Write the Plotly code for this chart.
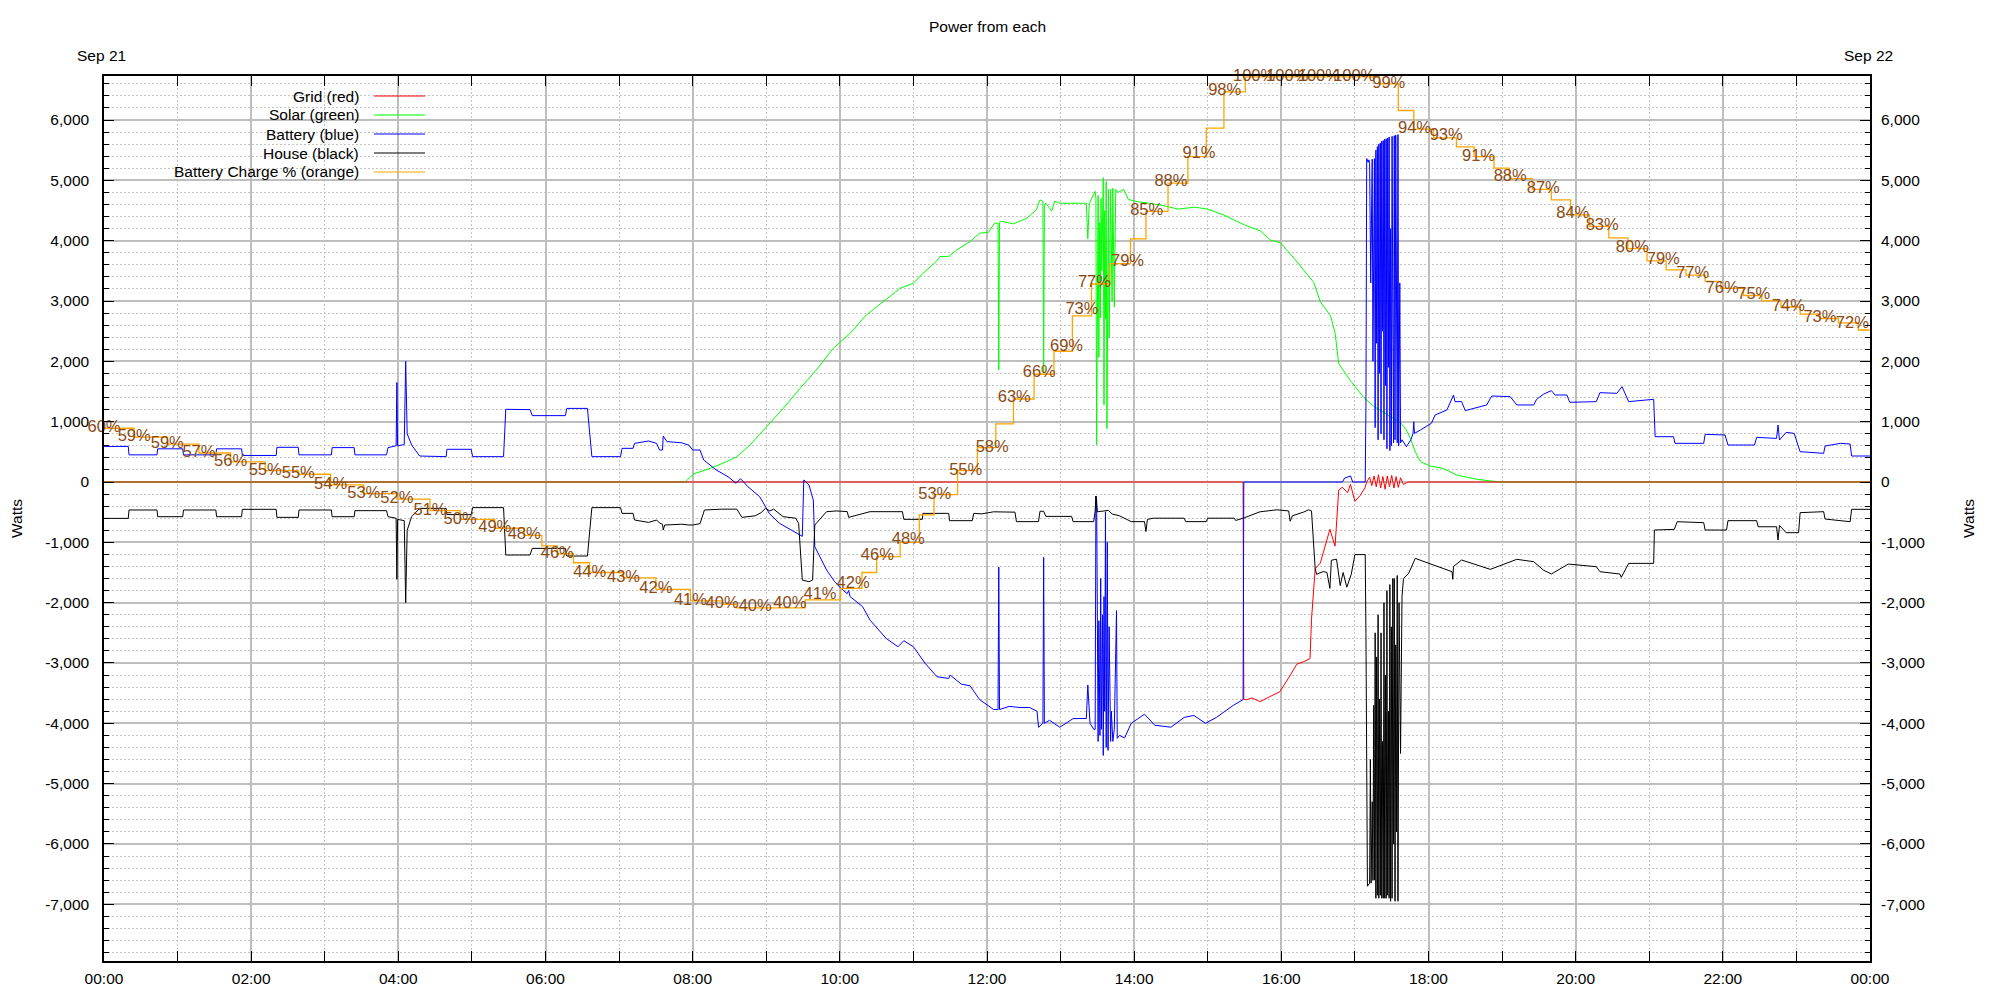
import datetime as dt
import plotly.graph_objects as go

# ---------------- data (time in hours since Sep 21 00:00, watts) ----------------
grid_pts = [
    (0.00, 0), (15.48, 0), (15.49, -3607), (15.53, -3607), (15.60, -3580), (15.71, -3640),
    (15.84, -3560), (15.98, -3476), (16.12, -3206), (16.21, -3020), (16.30, -2980),
    (16.39, -2927), (16.41, -2275), (16.46, -1437), (16.53, -1343), (16.62, -970),
    (16.66, -784), (16.73, -1063), (16.75, -598), (16.78, -133), (16.83, -86), (16.90, -179),
    (16.94, -40), (17.00, -319), (17.07, -226), (17.14, -86), (17.16, 0), (17.20, 80),
    (17.23, -60), (17.26, 100), (17.29, -80), (17.32, 120), (17.35, -100), (17.38, 90),
    (17.41, -120), (17.44, 100), (17.47, -80), (17.50, 110), (17.53, -100), (17.56, 90),
    (17.59, -90), (17.62, 70), (17.66, -40), (17.72, 0), (24.00, 0),
]

solar_pts = [
    (0.00, 0), (7.90, 0), (8.01, 133), (8.24, 226), (8.46, 337), (8.60, 420), (8.78, 613),
    (9.01, 917), (9.23, 1221), (9.46, 1553), (9.68, 1857), (9.91, 2216), (10.14, 2465),
    (10.36, 2769), (10.64, 3045), (10.82, 3211), (11.00, 3294), (11.13, 3460), (11.31, 3654),
    (11.36, 3737), (11.48, 3740), (11.59, 3848), (11.77, 3986), (11.90, 4124), (12.02, 4140),
    (12.10, 4290), (12.15, 4290), (12.16, 1857), (12.17, 4300), (12.19, 4324), (12.36, 4279),
    (12.54, 4373), (12.67, 4511), (12.72, 4677), (12.76, 4650), (12.77, 1800), (12.78, 4600),
    (12.80, 4621), (12.88, 4490), (12.92, 4654), (12.99, 4621), (13.35, 4621), (13.37, 4031),
    (13.39, 4621), (13.47, 4818), (13.48, 4700), (13.49, 620), (13.50, 2500), (13.51, 4750),
    (13.52, 2064), (13.53, 4300), (13.54, 2720), (13.55, 4700), (13.56, 3500), (13.57, 4850),
    (13.58, 5045), (13.59, 1277), (13.60, 4500), (13.61, 2700), (13.62, 4980), (13.63, 882),
    (13.64, 3740), (13.65, 4850), (13.66, 2390), (13.68, 4850), (13.70, 3000), (13.71, 4870),
    (13.73, 2900), (13.75, 4850), (13.78, 4800), (13.86, 4850), (13.92, 4685), (14.01, 4654),
    (14.19, 4621), (14.37, 4589), (14.60, 4523), (14.82, 4556), (15.00, 4523), (15.22, 4424),
    (15.50, 4260), (15.72, 4160), (15.85, 4011), (15.99, 3964), (16.19, 3684), (16.35, 3451),
    (16.44, 3309), (16.53, 2985), (16.67, 2752), (16.73, 2472), (16.78, 1960), (16.94, 1680),
    (17.12, 1401), (17.25, 1261), (17.43, 1121), (17.62, 982), (17.70, 862), (17.76, 702),
    (17.82, 503), (17.89, 337), (18.02, 265), (18.20, 226), (18.38, 116), (18.66, 44),
    (18.97, 0), (24.00, 0),
]

battery_pts = [
    (0.00, 590), (0.33, 590), (0.34, 450), (0.72, 450), (0.73, 550), (1.07, 550), (1.08, 450),
    (1.52, 450), (1.53, 550), (1.87, 550), (1.88, 440), (2.34, 440), (2.35, 575), (2.64, 575),
    (2.65, 450), (3.09, 450), (3.10, 570), (3.40, 570), (3.41, 450), (3.84, 450), (3.86, 570),
    (3.97, 600), (3.98, 1650), (3.99, 600), (4.08, 620), (4.10, 2000), (4.12, 800), (4.18, 614),
    (4.29, 431), (4.65, 420), (4.66, 542), (4.99, 542), (5.01, 420), (5.43, 420), (5.46, 1205),
    (5.79, 1200), (5.82, 1100), (6.27, 1100), (6.29, 1220), (6.57, 1220), (6.63, 420),
    (7.02, 420), (7.04, 558), (7.19, 558), (7.21, 640), (7.40, 680), (7.51, 640), (7.55, 530),
    (7.59, 530), (7.60, 763), (7.65, 670), (7.85, 650), (7.95, 610), (8.00, 530), (8.10, 530),
    (8.15, 365), (8.32, 200), (8.48, 88), (8.59, -22), (8.65, 55), (8.75, -77), (8.91, -243),
    (8.99, -409), (9.04, -520), (9.18, -685), (9.34, -796), (9.44, -862), (9.49, -900),
    (9.51, 33), (9.58, -50), (9.64, -300), (9.66, -1072), (9.82, -1459), (9.93, -1653),
    (10.04, -1791), (10.10, -1850), (10.12, -1800), (10.14, -1900), (10.31, -2067),
    (10.41, -2289), (10.63, -2593), (10.79, -2731), (10.87, -2631), (11.00, -2731),
    (11.16, -3007), (11.32, -3228), (11.48, -3256), (11.50, -3200), (11.65, -3350),
    (11.77, -3378), (11.90, -3607), (12.09, -3771), (12.15, -3771), (12.16, -1411),
    (12.17, -3771), (12.30, -3720), (12.45, -3738), (12.58, -3738), (12.68, -3800),
    (12.70, -4066), (12.76, -4000), (12.77, -1248), (12.78, -4000), (12.85, -3950),
    (12.99, -4066), (13.17, -3922), (13.35, -3920), (13.37, -3365), (13.40, -4000),
    (13.45, -4098), (13.47, -4100), (13.48, -232), (13.49, -300), (13.50, -3500),
    (13.51, -4300), (13.52, -2300), (13.535, -4200), (13.545, -1600), (13.555, -4100),
    (13.57, -2200), (13.58, -4533), (13.59, -1900), (13.60, -3800), (13.61, -494),
    (13.62, -4400), (13.635, -1000), (13.645, -4450), (13.66, -2400), (13.67, -3500),
    (13.68, -4300), (13.69, -3800), (13.71, -4300), (13.73, -4100), (13.76, -2132),
    (13.77, -4250), (13.80, -4200), (13.87, -4242), (13.96, -4000), (14.14, -3849),
    (14.28, -4032), (14.50, -4065), (14.68, -3902), (14.81, -3869), (14.97, -4000),
    (15.12, -3900), (15.35, -3700), (15.48, -3607), (15.49, 0), (16.83, 0), (16.86, 65),
    (16.94, 100), (16.97, 0), (17.14, 0), (17.15, 1263), (17.16, 5362), (17.18, 5300),
    (17.19, 5340), (17.20, 5280), (17.215, 3300), (17.225, 5330), (17.235, 5350),
    (17.245, 2000), (17.255, 5350), (17.265, 5360), (17.275, 900), (17.285, 5500),
    (17.295, 2300), (17.305, 5560), (17.315, 700), (17.325, 5600), (17.335, 1800),
    (17.345, 5620), (17.355, 800), (17.365, 5650), (17.375, 2500), (17.385, 5660),
    (17.395, 700), (17.405, 5680), (17.415, 1600), (17.425, 5690), (17.435, 550),
    (17.445, 5700), (17.455, 1900), (17.465, 5720), (17.475, 520), (17.485, 4200),
    (17.495, 600), (17.505, 5730), (17.515, 2800), (17.525, 650), (17.535, 5740),
    (17.545, 700), (17.555, 5750), (17.565, 3000), (17.575, 650), (17.585, 5760),
    (17.595, 600), (17.61, 3300), (17.62, 650), (17.64, 700), (17.70, 586), (17.76, 700),
    (17.79, 806), (17.80, 998), (17.81, 806), (17.89, 862), (18.04, 973), (18.09, 1111),
    (18.25, 1193), (18.34, 1442), (18.36, 1332), (18.45, 1332), (18.50, 1183), (18.79, 1277),
    (18.86, 1426), (19.11, 1415), (19.20, 1277), (19.43, 1277), (19.47, 1371), (19.56, 1454),
    (19.67, 1515), (19.72, 1442), (19.88, 1442), (19.92, 1321), (20.28, 1332), (20.33, 1481),
    (20.56, 1470), (20.63, 1581), (20.72, 1332), (21.06, 1371), (21.08, 751), (21.33, 751),
    (21.35, 641), (21.74, 641), (21.76, 790), (22.03, 779), (22.07, 613), (22.43, 613),
    (22.46, 740), (22.73, 723), (22.75, 945), (22.77, 696), (22.86, 823), (22.97, 806),
    (23.05, 503), (23.37, 475), (23.39, 597), (23.60, 641), (23.73, 630), (23.75, 431),
    (24.00, 431),
]

house_pts = [
    (0.00, -603), (0.33, -603), (0.34, -464), (0.72, -464), (0.73, -575), (1.07, -575),
    (1.08, -464), (1.52, -464), (1.53, -575), (1.87, -575), (1.88, -453), (2.34, -453),
    (2.35, -586), (2.64, -586), (2.65, -464), (3.09, -464), (3.10, -575), (3.40, -575),
    (3.41, -475), (3.84, -475), (3.86, -575), (3.97, -600), (3.98, -1614), (3.99, -620),
    (4.08, -640), (4.10, -2000), (4.12, -800), (4.18, -575), (4.29, -437), (4.65, -437),
    (4.66, -540), (4.99, -540), (5.01, -425), (5.43, -425), (5.46, -1210), (5.79, -1210),
    (5.82, -1100), (6.27, -1100), (6.29, -1227), (6.57, -1227), (6.63, -425), (7.02, -425),
    (7.04, -520), (7.19, -520), (7.21, -630), (7.40, -670), (7.51, -630), (7.55, -680),
    (7.59, -700), (7.60, -796), (7.62, -713), (7.85, -700), (7.95, -713), (8.00, -713),
    (8.10, -690), (8.16, -464), (8.40, -450), (8.60, -450), (8.67, -586), (8.85, -560),
    (8.93, -508), (8.99, -437), (9.05, -480), (9.10, -450), (9.23, -575), (9.40, -600),
    (9.44, -685), (9.49, -1625), (9.58, -1653), (9.63, -1625), (9.66, -713), (9.82, -492),
    (9.95, -480), (10.10, -490), (10.12, -586), (10.41, -492), (10.85, -492), (10.87, -619),
    (11.12, -619), (11.13, -520), (11.48, -520), (11.49, -641), (11.80, -641), (11.82, -520),
    (11.93, -528), (12.09, -494), (12.38, -500), (12.40, -657), (12.70, -657), (12.72, -485),
    (12.77, -485), (12.80, -570), (13.15, -570), (13.17, -657), (13.45, -657), (13.47, -480),
    (13.48, -232), (13.50, -494), (13.65, -470), (13.70, -530), (13.80, -560), (13.87, -600),
    (13.96, -657), (14.14, -657), (14.16, -821), (14.18, -620), (14.26, -600), (14.68, -600),
    (14.70, -657), (14.98, -657), (15.00, -600), (15.36, -600), (15.38, -638), (15.50, -592),
    (15.71, -494), (15.94, -461), (16.10, -480), (16.12, -650), (16.15, -560), (16.30, -500),
    (16.37, -461), (16.41, -480), (16.43, -920), (16.46, -1437), (16.48, -1530),
    (16.57, -1484), (16.62, -1500), (16.66, -1763), (16.68, -1297), (16.75, -1279),
    (16.80, -1717), (16.84, -1500), (16.89, -1744), (16.95, -1530), (17.00, -1203),
    (17.14, -1203), (17.15, -2508), (17.16, -6700), (17.17, -6700), (17.20, -6650),
    (17.21, -4600), (17.22, -6650), (17.235, -5300), (17.245, -6600), (17.255, -3700),
    (17.265, -6600), (17.275, -2500), (17.285, -6900), (17.295, -2900), (17.305, -6850),
    (17.315, -2200), (17.325, -6900), (17.335, -3600), (17.345, -6850), (17.355, -2500),
    (17.365, -6900), (17.375, -4300), (17.385, -6900), (17.395, -2000), (17.405, -6900),
    (17.415, -3200), (17.425, -6900), (17.435, -1800), (17.445, -6850), (17.455, -3800),
    (17.465, -6900), (17.475, -1700), (17.485, -6950), (17.495, -2400), (17.505, -6900),
    (17.515, -1600), (17.525, -6000), (17.535, -1600), (17.545, -6950), (17.555, -2700),
    (17.565, -5800), (17.575, -1550), (17.585, -6950), (17.60, -2000), (17.62, -4500),
    (17.64, -1900), (17.66, -1600), (17.70, -1540), (17.73, -1514), (17.82, -1266),
    (18.06, -1376), (18.32, -1487), (18.33, -1614), (18.34, -1400), (18.45, -1293),
    (18.84, -1448), (19.20, -1282), (19.43, -1321), (19.56, -1459), (19.67, -1525),
    (19.90, -1360), (20.28, -1404), (20.33, -1487), (20.60, -1525), (20.62, -1581),
    (20.72, -1349), (21.06, -1349), (21.07, -796), (21.34, -785), (21.38, -658),
    (21.74, -674), (21.76, -796), (22.05, -796), (22.07, -641), (22.46, -641), (22.48, -742),
    (22.73, -742), (22.75, -962), (22.77, -720), (22.86, -840), (23.03, -840), (23.05, -508),
    (23.37, -492), (23.39, -614), (23.73, -658), (23.75, -453), (24.00, -453),
]

charge_t = [0.00, 0.41, 0.86, 1.29, 1.72, 2.19, 2.64, 3.08, 3.53, 3.98, 4.43, 4.84, 5.31, 5.71,
            5.95, 6.16, 6.38, 6.60, 7.06, 7.50, 7.97, 8.40, 8.59, 9.53, 10.01, 10.30, 10.50,
            10.82, 11.08, 11.28, 11.60, 11.87, 12.12, 12.36, 12.64, 12.91, 13.16, 13.42, 13.67,
            13.95, 14.16, 14.46, 14.73, 14.98, 15.22, 15.51, 17.33, 17.59, 17.80, 18.07, 18.38,
            18.62, 18.89, 19.10, 19.41, 19.67, 19.93, 20.19, 20.45, 20.71, 20.97, 21.23, 21.50,
            21.76, 21.97, 22.28, 22.53, 22.79, 23.05, 23.32, 23.57, 23.84, 24.00]
charge_pct = [60.2, 59.2, 58.4, 57.4, 56.4, 55.4, 55.0, 53.8, 52.8, 52.2, 50.9, 49.9, 48.9, 48.1,
              46.9, 46.0, 45.0, 43.9, 43.3, 42.0, 40.7, 40.3, 39.9, 40.8, 42.1, 43.9, 45.7,
              47.3, 50.4, 52.7, 55.4, 58.0, 60.7, 63.5, 66.3, 68.9, 72.9, 76.5, 78.8,
              81.6, 84.7, 87.9, 90.9, 94.1, 98.2, 99.9, 99.1, 96.1, 94.0, 93.0, 92.0,
              90.9, 89.6, 88.4, 87.2, 86.0, 84.3, 83.0, 81.7, 80.5, 79.1, 78.1, 77.5,
              76.8, 76.0, 75.2, 74.6, 73.9, 73.1, 72.6, 72.1, 71.3, 71.3]

label_t = [0.00, 0.41, 0.86, 1.29, 1.72, 2.19, 2.64, 3.08, 3.53, 3.98, 4.43, 4.84, 5.31, 5.71,
           6.16, 6.60, 7.06, 7.50, 7.97, 8.40, 8.85, 9.32, 9.73, 10.18, 10.51, 10.93, 11.29,
           11.71, 12.07, 12.37, 12.71, 13.08, 13.29, 13.46, 13.91, 14.17, 14.50, 14.88, 15.23,
           15.63, 16.08, 16.51, 16.99, 17.46, 17.81, 18.24, 18.68, 19.11, 19.56, 19.96, 20.36,
           20.77, 21.19, 21.59, 21.99, 22.42, 22.89, 23.32, 23.76]
label_pct = [60.2, 59.2, 58.4, 57.4, 56.4, 55.4, 55.0, 53.8, 52.8, 52.2, 50.9, 49.9, 48.9, 48.1,
             46.0, 43.9, 43.3, 42.0, 40.7, 40.3, 40.0, 40.3, 41.4, 42.6, 45.8, 47.6, 52.7,
             55.4, 58.0, 63.6, 66.5, 69.4, 73.6, 76.6, 79.0, 84.8, 88.0, 91.2, 98.3,
             99.9, 99.9, 99.9, 99.9, 99.1, 94.0, 93.2, 90.9, 88.6, 87.3, 84.4, 83.1,
             80.6, 79.2, 77.6, 76.0, 75.3, 73.9, 72.7, 72.0]
label_text = ["60%", "59%", "59%", "57%", "56%", "55%", "55%", "54%", "53%", "52%", "51%", "50%",
              "49%", "48%", "46%", "44%", "43%", "42%", "41%", "40%", "40%", "40%", "41%", "42%",
              "46%", "48%", "53%", "55%", "58%", "63%", "66%", "69%", "73%", "77%", "79%", "85%",
              "88%", "91%", "98%", "100%", "100%", "100%", "100%", "99%", "94%", "93%", "91%",
              "88%", "87%", "84%", "83%", "80%", "79%", "77%", "76%", "75%", "74%", "73%", "72%"]

y_ticks = [-7000, -6000, -5000, -4000, -3000, -2000, -1000, 0, 1000, 2000, 3000, 4000, 5000, 6000]
y_range = [-7940, 6730]

series = [  # name, points, colour
    ("Grid (red)", grid_pts, "#ff0000"),
    ("Solar (green)", solar_pts, "#00ff00"),
    ("Battery (blue)", battery_pts, "#0000ff"),
    ("House (black)", house_pts, "#000000"),
]
charge_name, charge_color = "Battery Charge % (orange)", "#ffa500"
label_color = "#8b4a14"

# ---------------- helpers ----------------
BASE = dt.datetime(2023, 9, 21)


def to_time(hours):
    return [BASE + dt.timedelta(hours=h) for h in hours]


FONT = "Liberation Sans, Arial, sans-serif"
FS = 15.5

# page offset (browser body margin) and plot area in screen pixels
OFF = 8
L, R, T, B = 104, 1870, 76, 961
W_FIG, H_FIG = 2000, 1000


def px(x):
    return (x - L) / (R - L)


def py(y):
    return (B - y) / (B - T)


fig = go.Figure()

draw_order = [1, 0, 2, 3]
for i in draw_order:
    name, pts, col = series[i]
    t, w = zip(*pts)
    fig.add_trace(go.Scatter(x=to_time(t), y=list(w), mode="lines", name=name,
                             line=dict(color=col, width=1), showlegend=False,
                             hoverinfo="skip"))

fig.add_trace(go.Scatter(x=to_time(charge_t), y=charge_pct, mode="lines", name=charge_name,
                         line=dict(color=charge_color, width=1.3, shape="hv"),
                         yaxis="y3", showlegend=False, hoverinfo="skip"))
fig.add_trace(go.Scatter(x=to_time(label_t), y=label_pct, mode="text", text=label_text,
                         textposition="middle center",
                         textfont=dict(color=label_color, size=FS + 1, family=FONT),
                         yaxis="y3", showlegend=False, cliponaxis=False, hoverinfo="skip"))
# dummy trace so the right-hand axis is drawn
fig.add_trace(go.Scatter(x=[BASE], y=[None], yaxis="y2", showlegend=False, hoverinfo="skip"))

tick_text = [f"{v:,}" for v in y_ticks]

fig.update_layout(
    width=W_FIG, height=H_FIG,
    margin=dict(l=L - OFF, r=W_FIG - (R - OFF), t=T - OFF, b=H_FIG - (B - OFF), pad=0),
    paper_bgcolor="white", plot_bgcolor="white",
    font=dict(family=FONT, size=FS, color="black"),
    showlegend=False,
    xaxis=dict(
        type="date",
        range=[BASE, BASE + dt.timedelta(hours=24)],
        tick0=BASE, dtick=2 * 3600 * 1000, tickformat="%H:%M",
        showgrid=True, gridcolor="#bebebe", gridwidth=2,
        ticks="inside", ticklen=10, tickwidth=1.2, tickcolor="black",
        showline=True, linecolor="black", linewidth=1.5, mirror="allticks",
        ticklabelstandoff=3,
        minor=dict(dtick=3600 * 1000, tick0=BASE, showgrid=True, gridcolor="#c4c4c4",
                   griddash="2px,2px", gridwidth=1, ticks="inside", ticklen=5,
                   tickcolor="black", tickwidth=1.2),
        zeroline=False,
    ),
    yaxis=dict(
        range=y_range, tickvals=y_ticks, ticktext=tick_text,
        showgrid=True, gridcolor="#bebebe", gridwidth=2,
        ticks="inside", ticklen=10, tickwidth=1.2, tickcolor="black",
        showline=True, linecolor="black", linewidth=1.5, mirror="allticks",
        ticklabelstandoff=10,
        minor=dict(dtick=200, tick0=0, showgrid=True, gridcolor="#c4c4c4",
                   griddash="2px,2px", gridwidth=1, ticks="inside", ticklen=5,
                   tickcolor="black", tickwidth=1.2),
        zeroline=False,
    ),
    yaxis2=dict(
        range=y_range, tickvals=y_ticks, ticktext=tick_text, overlaying="y", side="right",
        showgrid=False, ticks="", showline=False, zeroline=False, ticklabelstandoff=10,
    ),
    yaxis3=dict(range=[0, 100], overlaying="y", visible=False, showgrid=False,
                zeroline=False),
)

ann = []
ann.append(dict(text="Power from each", x=px(987), y=py(27), xref="paper", yref="paper",
                showarrow=False, xanchor="center", yanchor="middle", font=dict(size=FS)))
ann.append(dict(text="Sep 21", x=px(101), y=py(56), xref="paper", yref="paper",
                showarrow=False, xanchor="center", yanchor="middle", font=dict(size=FS)))
ann.append(dict(text="Sep 22", x=px(1868), y=py(56), xref="paper", yref="paper",
                showarrow=False, xanchor="center", yanchor="middle", font=dict(size=FS)))
ann.append(dict(text="Watts", x=px(16), y=py(519), xref="paper", yref="paper",
                showarrow=False, xanchor="center", yanchor="middle", textangle=-90,
                font=dict(size=FS)))
ann.append(dict(text="Watts", x=px(1968), y=py(519), xref="paper", yref="paper",
                showarrow=False, xanchor="center", yanchor="middle", textangle=-90,
                font=dict(size=FS)))

# legend (gnuplot style: right-justified text, sample line on the right)
legend_entries = [(s[0], s[2]) for s in series] + [(charge_name, charge_color)]
shapes = []
for k, (name, col) in enumerate(legend_entries):
    yy = 96 + 19 * k
    ann.append(dict(text=name, x=px(361), y=py(yy), xref="paper", yref="paper",
                    showarrow=False, xanchor="right", yanchor="middle", font=dict(size=FS)))
    shapes.append(dict(type="line", xref="paper", yref="paper", x0=px(374), x1=px(425),
                       y0=py(yy), y1=py(yy), line=dict(color=col, width=1)))

fig.update_layout(annotations=ann, shapes=shapes)

fig.write_html("out.html")
